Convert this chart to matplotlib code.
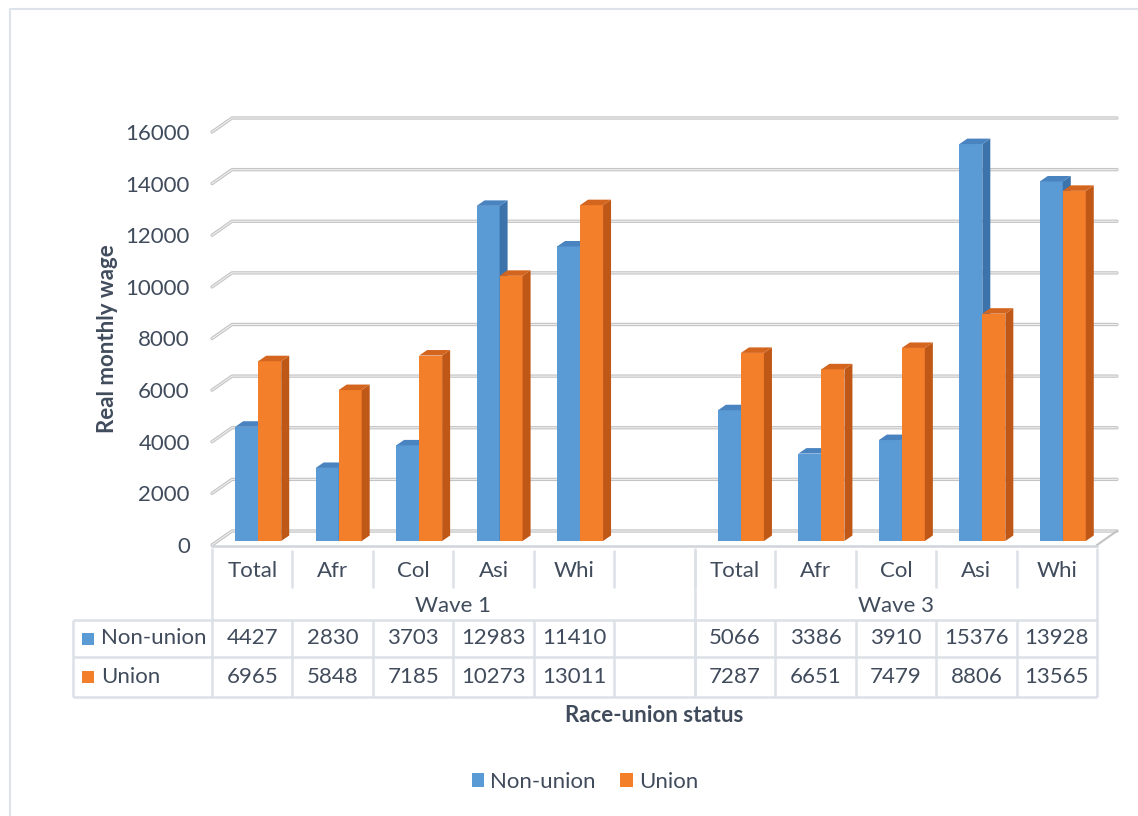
import numpy as np
import matplotlib.pyplot as plt
from matplotlib.patches import Polygon, Patch

plt.rcParams['font.family'] = ['Lato', 'DejaVu Sans']

# data
categories = ['Total', 'Afr', 'Col', 'Asi', 'Whi', '', 'Total', 'Afr', 'Col', 'Asi', 'Whi']
non_union = [4427, 2830, 3703, 12983, 11410, None, 5066, 3386, 3910, 15376, 13928]
union = [6965, 5848, 7185, 10273, 13011, None, 7287, 6651, 7479, 8806, 13565]
waves = ['Wave 1', 'Wave 3']
wave_cols = [6, 5]
series = ['Non-union', 'Union']
yticks = np.arange(0, 16001, 2000)

TXT = '#404B5C'
GRID = '#C4C4C4'
TABLE = '#DCE1E8'
FRONT = {'Non-union': '#5B9BD5', 'Union': '#F47F2A'}
SIDE = {'Non-union': '#3C73AA', 'Union': '#BF5716'}
TOP = {'Non-union': '#4A84C0', 'Union': '#D4651E'}

W, H = 1138, 816
fig = plt.figure(figsize=(W / 100, H / 100), dpi=100)

# plot area (front plane) in pixels
L, R, Y0, Y1 = 212, 1097, 545, 132
ncat = len(categories)
colw = (R - L) / ncat

ax = fig.add_axes([L / W, 1 - Y0 / H, (R - L) / W, (Y0 - Y1) / H])
ax.set_xlim(0, ncat)
ax.set_ylim(0, 16000)
for s in ax.spines.values():
    s.set_visible(False)
ax.set_xticks([])
ax.set_yticks(yticks)
ax.tick_params(axis='y', length=0, pad=16, labelsize=16, labelcolor=TXT)
ax.patch.set_alpha(0)

ux = ncat / (R - L)          # data units per pixel
uy = 16000 / (Y0 - Y1)
DX, DY = 20 * ux, 14 * uy    # full depth
fox, foy = 6 * ux, 4 * uy    # bar front offset
bdx, bdy = 8 * ux, 5.5 * uy  # bar depth
bw = 23 * ux

# gridlines on back wall + left wall
for y in yticks:
    ax.plot([0, DX, ncat + DX], [y, y + DY, y + DY], color=GRID, lw=2.4,
            solid_capstyle='round', clip_on=False, zorder=1)
    ax.plot([0, DX, ncat + DX], [y, y + DY, y + DY], color='#EFEFEF', lw=0.8,
            clip_on=False, zorder=1)
ax.plot([ncat, ncat + DX], [0, DY], color=GRID, lw=1.5, clip_on=False, zorder=1)


def bar3d(xc, h, name):
    x0 = xc - bw / 2 + fox
    x1 = x0 + bw
    ax.bar(x0, h, width=bw, bottom=foy, align='edge', color=FRONT[name],
           lw=0, zorder=3)
    top = h + foy
    ax.add_patch(Polygon([(x1, foy), (x1 + bdx, foy + bdy), (x1 + bdx, top + bdy), (x1, top)],
                         closed=True, fc=SIDE[name], lw=0, zorder=3, clip_on=False))
    ax.add_patch(Polygon([(x0, top), (x1, top), (x1 + bdx, top + bdy), (x0 + bdx, top + bdy)],
                         closed=True, fc=TOP[name], lw=0, zorder=3, clip_on=False))


for i in range(ncat):
    c = i + 0.5
    if non_union[i] is not None:
        bar3d(c - bw / 2, non_union[i], 'Non-union')
    if union[i] is not None:
        bar3d(c + bw / 2, union[i], 'Union')

# overlay in pixel coordinates for table and texts
ov = fig.add_axes([0, 0, 1, 1])
ov.set_xlim(0, W)
ov.set_ylim(H, 0)
ov.axis('off')

# chart border
ov.plot([10, 10, W + 5], [H + 5, 9, 9], color='#DDE3EA', lw=1.5)

edges = [L + k * colw for k in range(ncat + 1)]
T0, T1, T2, T3, T4 = 548, 592, 620, 657, 697
lk = dict(color=TABLE, lw=1.8, solid_capstyle='butt')
ov.plot([L, R], [T0 - 2, T0 - 2], color='#D0D5DC', lw=1.8)
ov.plot([L, L], [T0, T4], **lk)
ov.plot([R, R], [T0, T4], **lk)
for e in edges[1:-1]:
    ov.plot([e, e], [T0 + 2, T1 - 4], **lk)
    ov.plot([e, e], [T2, T4], **lk)
wave_edge = edges[wave_cols[0]]
ov.plot([wave_edge, wave_edge], [T0, T4], **lk)
for y in (T2, T3, T4):
    ov.plot([73, R], [y, y], **lk)
ov.plot([73, 73], [T2, T4], **lk)

fs = 16
for i, cat in enumerate(categories):
    xc = (edges[i] + edges[i + 1]) / 2
    ov.text(xc, (T0 + T1) / 2 + 1, cat, ha='center', va='center', fontsize=fs, color=TXT)
    if non_union[i] is not None:
        ov.text(xc, (T2 + T3) / 2, str(non_union[i]), ha='center', va='center', fontsize=fs, color=TXT)
    if union[i] is not None:
        ov.text(xc, (T3 + T4) / 2, str(union[i]), ha='center', va='center', fontsize=fs, color=TXT)

start = 0
for wname, n in zip(waves, wave_cols):
    xc = (edges[start] + edges[start + n]) / 2
    ov.text(xc, (T1 + T2) / 2, wname, ha='center', va='center', fontsize=fs, color=TXT)
    start += n

for name, (ya, yb) in zip(series, [(T2, T3), (T3, T4)]):
    ym = (ya + yb) / 2
    ov.add_patch(plt.Rectangle((82, ym - 6), 12, 12, fc=FRONT[name], lw=0))
    ov.text(101, ym, name, ha='left', va='center', fontsize=fs, color=TXT)

ov.text(108, 339, 'Real monthly wage', rotation=90, ha='center', va='center',
        fontsize=16, fontweight='bold', color=TXT)
ov.text(654, 716, 'Race-union status', ha='center', va='center',
        fontsize=16, fontweight='bold', color=TXT)

handles = [Patch(fc=FRONT[s], lw=0) for s in series]
fig.legend(handles, series, loc='center', bbox_to_anchor=(585 / W, 1 - 782 / H),
           ncol=2, frameon=False, fontsize=fs, labelcolor=TXT,
           handlelength=0.55, handleheight=0.55, handletextpad=0.3, columnspacing=1.1)

fig.savefig('out.png', dpi=100)
